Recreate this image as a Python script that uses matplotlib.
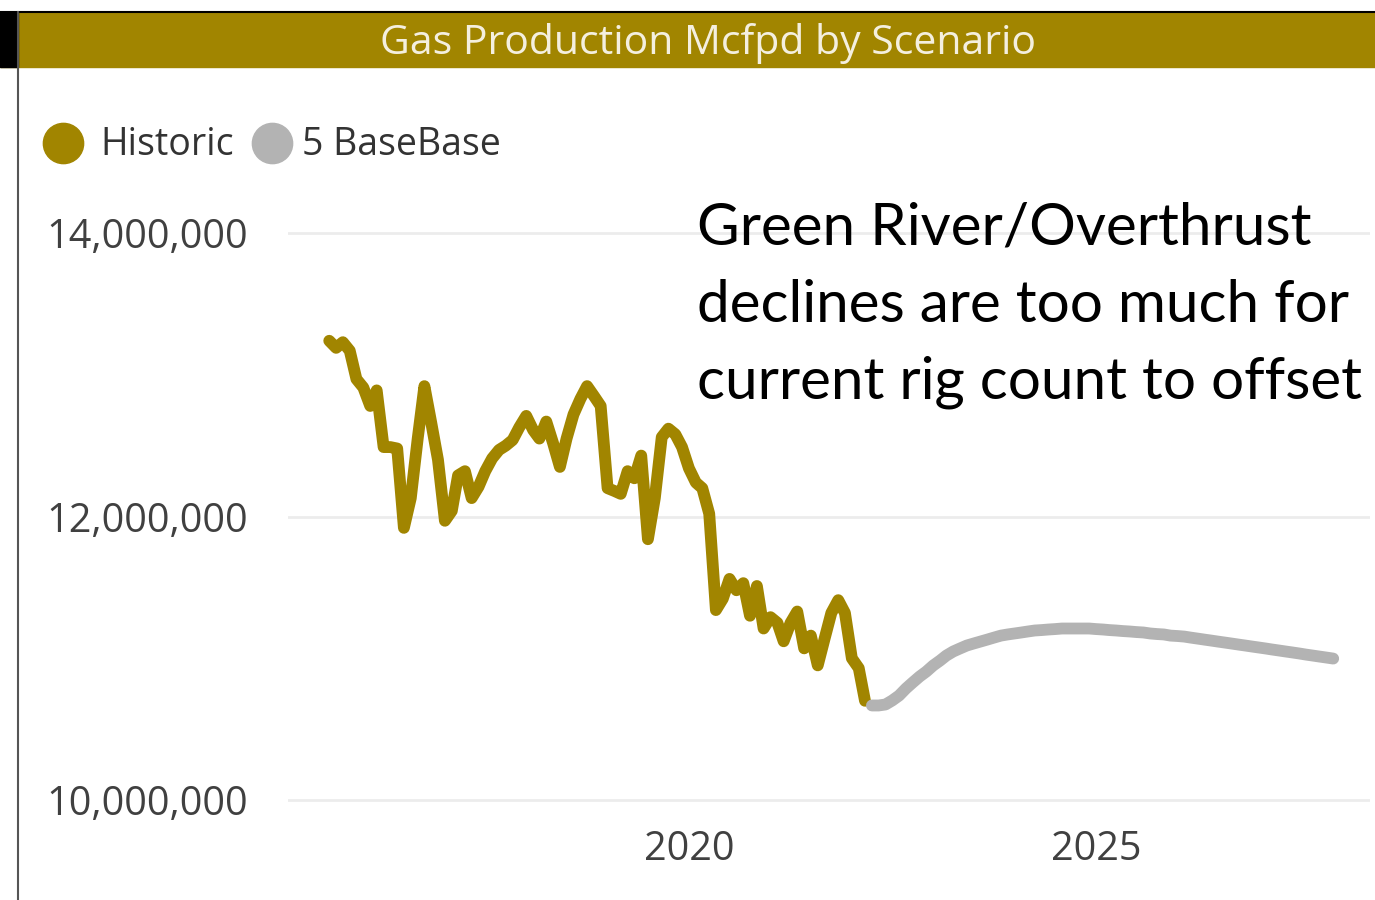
import numpy as np
import pandas as pd
import matplotlib
matplotlib.use('Agg')
import matplotlib.pyplot as plt
from matplotlib.patches import Rectangle
from matplotlib.lines import Line2D
from matplotlib.ticker import FuncFormatter

plt.rcParams['font.family'] = ['Open Sans', 'DejaVu Sans']

# monthly gas production, Mcfpd
hist_months = pd.date_range('2015-08-01', periods=80, freq='MS')
hist_mcfpd = np.array([
    13.24, 13.19, 13.23, 13.17, 12.97, 12.91, 12.78, 12.89, 12.49, 12.49,
    12.48, 11.92, 12.13, 12.55, 12.92, 12.66, 12.40, 11.97, 12.04, 12.29,
    12.32, 12.13, 12.21, 12.32, 12.41, 12.47, 12.50, 12.54, 12.63, 12.71,
    12.61, 12.55, 12.67, 12.52, 12.35, 12.55, 12.72, 12.83, 12.92, 12.85,
    12.78, 12.20, 12.18, 12.16, 12.32, 12.27, 12.43, 11.84, 12.13, 12.56,
    12.62, 12.58, 12.49, 12.34, 12.24, 12.20, 12.02, 11.34, 11.42, 11.56,
    11.48, 11.53, 11.30, 11.51, 11.21, 11.29, 11.25, 11.12, 11.25, 11.33,
    11.07, 11.16, 10.95, 11.14, 11.32, 11.41, 11.32, 11.00, 10.93, 10.70,
]) * 1e6

# scenario "5 BaseBase" forecast
fcst_months = pd.date_range('2022-04-01', periods=69, freq='MS')
fcst_mcfpd = np.array([
    10.667, 10.667, 10.674, 10.702, 10.737, 10.787, 10.829, 10.871, 10.906, 10.949,
    10.984, 11.019, 11.048, 11.069, 11.090, 11.104, 11.118, 11.132, 11.146, 11.160,
    11.168, 11.175, 11.182, 11.189, 11.196, 11.199, 11.203, 11.206, 11.210, 11.210,
    11.210, 11.210, 11.210, 11.206, 11.203, 11.199, 11.196, 11.192, 11.189, 11.185,
    11.182, 11.175, 11.171, 11.168, 11.160, 11.157, 11.153, 11.146, 11.139, 11.132,
    11.125, 11.118, 11.111, 11.104, 11.097, 11.090, 11.083, 11.076, 11.069, 11.062,
    11.055, 11.048, 11.041, 11.034, 11.026, 11.019, 11.012, 11.005, 10.998,
]) * 1e6

series_names = ['Historic', '5 BaseBase']
y_ticks = [10_000_000, 12_000_000, 14_000_000]
x_tick_years = [2020, 2025]
note_lines = ['Green River/Overthrust',
              'declines are too much for',
              'current rig count to offset']

gold = '#A18500'
grey = '#B3B3B3'

W, H = 1375, 900


def fx(px):
    return px / W


def fy(py):
    return 1 - py / H


fig = plt.figure(figsize=(W / 100, H / 100), dpi=100)

ax = fig.add_axes([fx(288), fy(814.2), (1370 - 288) / W, 609.5 / H])
ax.plot(hist_months, hist_mcfpd, color=gold, lw=8.5,
        solid_capstyle='round', solid_joinstyle='round', zorder=3)
ax.plot(fcst_months, fcst_mcfpd, color=grey, lw=8.5,
        solid_capstyle='round', solid_joinstyle='round', zorder=3)

ax.set_ylim(9.9e6, 14.2e6)
ax.set_xlim(pd.Timestamp('2015-01-28'), pd.Timestamp('2028-05-14'))
ax.set_yticks(y_ticks)
ax.yaxis.set_major_formatter(FuncFormatter(lambda v, p: f'{v:,.0f}'))
ax.set_xticks([pd.Timestamp(f'{y}-01-01') for y in x_tick_years])
ax.set_xticklabels([str(y) for y in x_tick_years])
ax.grid(axis='y', color='#ececec', lw=2, zorder=0)
ax.tick_params(axis='both', length=0, labelsize=28.5, colors='#404040')
ax.tick_params(axis='y', pad=29)
ax.tick_params(axis='x', pad=11)
for s in ax.spines.values():
    s.set_visible(False)

# header bar and frame edges
fig.add_artist(Rectangle((0, fy(67)), 1, 55 / H, transform=fig.transFigure,
                         color=gold, zorder=1))
fig.add_artist(Rectangle((0, fy(67)), fx(18), 55 / H, transform=fig.transFigure,
                         color='black', zorder=2))
fig.add_artist(Line2D([0, 1], [fy(12), fy(12)], transform=fig.transFigure,
                      color='black', lw=1.5, zorder=3))
fig.add_artist(Line2D([fx(18), fx(18)], [fy(12), 0], transform=fig.transFigure,
                      color='#555555', lw=1.5, zorder=3))
fig.text(fx(708), fy(43), 'Gas Production Mcfpd by Scenario', ha='center', va='center',
         color='#F4EFDF', fontsize=29.5, zorder=4)

# legend
for cx, tx, col, name in [(63, 100, gold, series_names[0]), (272, 302, grey, series_names[1])]:
    fig.add_artist(Line2D([fx(cx)], [fy(143)], transform=fig.transFigure, marker='o',
                          markersize=29, color=col, linestyle=''))
    fig.text(fx(tx), fy(145), name, ha='left', va='center', color='#333333', fontsize=27)

# annotation
for yb, line in zip([245, 322, 398], note_lines):
    fig.text(fx(697), fy(yb), line, ha='left', va='baseline', color='black',
             fontsize=42, family=['Lato', 'DejaVu Sans'])

fig.savefig('out.png', dpi=100)
